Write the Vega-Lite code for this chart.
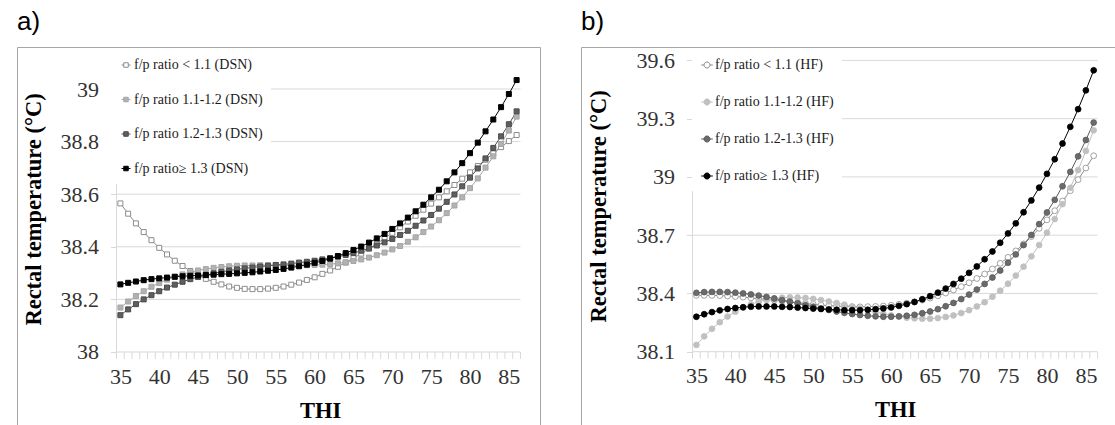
{
  "$schema": "https://vega.github.io/schema/vega-lite/v6.json",
  "background": "white",
  "padding": {"left": 16, "top": 8, "right": 0, "bottom": 0},
  "spacing": 39,
  "datasets": {
    "dsn": [
      {"THI":35,"series":"f/p ratio < 1.1 (DSN)","RT":38.565},{"THI":36,"series":"f/p ratio < 1.1 (DSN)","RT":38.526},{"THI":37,"series":"f/p ratio < 1.1 (DSN)","RT":38.489},{"THI":38,"series":"f/p ratio < 1.1 (DSN)","RT":38.456},{"THI":39,"series":"f/p ratio < 1.1 (DSN)","RT":38.425},{"THI":40,"series":"f/p ratio < 1.1 (DSN)","RT":38.396},{"THI":41,"series":"f/p ratio < 1.1 (DSN)","RT":38.371},{"THI":42,"series":"f/p ratio < 1.1 (DSN)","RT":38.347},{"THI":43,"series":"f/p ratio < 1.1 (DSN)","RT":38.327},{"THI":44,"series":"f/p ratio < 1.1 (DSN)","RT":38.308},{"THI":45,"series":"f/p ratio < 1.1 (DSN)","RT":38.292},{"THI":46,"series":"f/p ratio < 1.1 (DSN)","RT":38.278},{"THI":47,"series":"f/p ratio < 1.1 (DSN)","RT":38.267},{"THI":48,"series":"f/p ratio < 1.1 (DSN)","RT":38.257},{"THI":49,"series":"f/p ratio < 1.1 (DSN)","RT":38.249},{"THI":50,"series":"f/p ratio < 1.1 (DSN)","RT":38.244},{"THI":51,"series":"f/p ratio < 1.1 (DSN)","RT":38.240},{"THI":52,"series":"f/p ratio < 1.1 (DSN)","RT":38.239},{"THI":53,"series":"f/p ratio < 1.1 (DSN)","RT":38.239},{"THI":54,"series":"f/p ratio < 1.1 (DSN)","RT":38.241},{"THI":55,"series":"f/p ratio < 1.1 (DSN)","RT":38.244},{"THI":56,"series":"f/p ratio < 1.1 (DSN)","RT":38.249},{"THI":57,"series":"f/p ratio < 1.1 (DSN)","RT":38.256},{"THI":58,"series":"f/p ratio < 1.1 (DSN)","RT":38.264},{"THI":59,"series":"f/p ratio < 1.1 (DSN)","RT":38.274},{"THI":60,"series":"f/p ratio < 1.1 (DSN)","RT":38.284},{"THI":61,"series":"f/p ratio < 1.1 (DSN)","RT":38.297},{"THI":62,"series":"f/p ratio < 1.1 (DSN)","RT":38.310},{"THI":63,"series":"f/p ratio < 1.1 (DSN)","RT":38.324},{"THI":64,"series":"f/p ratio < 1.1 (DSN)","RT":38.340},{"THI":65,"series":"f/p ratio < 1.1 (DSN)","RT":38.357},{"THI":66,"series":"f/p ratio < 1.1 (DSN)","RT":38.374},{"THI":67,"series":"f/p ratio < 1.1 (DSN)","RT":38.393},{"THI":68,"series":"f/p ratio < 1.1 (DSN)","RT":38.412},{"THI":69,"series":"f/p ratio < 1.1 (DSN)","RT":38.432},{"THI":70,"series":"f/p ratio < 1.1 (DSN)","RT":38.453},{"THI":71,"series":"f/p ratio < 1.1 (DSN)","RT":38.474},{"THI":72,"series":"f/p ratio < 1.1 (DSN)","RT":38.496},{"THI":73,"series":"f/p ratio < 1.1 (DSN)","RT":38.518},{"THI":74,"series":"f/p ratio < 1.1 (DSN)","RT":38.541},{"THI":75,"series":"f/p ratio < 1.1 (DSN)","RT":38.564},{"THI":76,"series":"f/p ratio < 1.1 (DSN)","RT":38.588},{"THI":77,"series":"f/p ratio < 1.1 (DSN)","RT":38.611},{"THI":78,"series":"f/p ratio < 1.1 (DSN)","RT":38.635},{"THI":79,"series":"f/p ratio < 1.1 (DSN)","RT":38.659},{"THI":80,"series":"f/p ratio < 1.1 (DSN)","RT":38.683},{"THI":81,"series":"f/p ratio < 1.1 (DSN)","RT":38.707},{"THI":82,"series":"f/p ratio < 1.1 (DSN)","RT":38.731},{"THI":83,"series":"f/p ratio < 1.1 (DSN)","RT":38.755},{"THI":84,"series":"f/p ratio < 1.1 (DSN)","RT":38.779},{"THI":85,"series":"f/p ratio < 1.1 (DSN)","RT":38.802},{"THI":86,"series":"f/p ratio < 1.1 (DSN)","RT":38.825},
      {"THI":35,"series":"f/p ratio 1.1-1.2 (DSN)","RT":38.169},{"THI":36,"series":"f/p ratio 1.1-1.2 (DSN)","RT":38.192},{"THI":37,"series":"f/p ratio 1.1-1.2 (DSN)","RT":38.213},{"THI":38,"series":"f/p ratio 1.1-1.2 (DSN)","RT":38.231},{"THI":39,"series":"f/p ratio 1.1-1.2 (DSN)","RT":38.248},{"THI":40,"series":"f/p ratio 1.1-1.2 (DSN)","RT":38.262},{"THI":41,"series":"f/p ratio 1.1-1.2 (DSN)","RT":38.275},{"THI":42,"series":"f/p ratio 1.1-1.2 (DSN)","RT":38.286},{"THI":43,"series":"f/p ratio 1.1-1.2 (DSN)","RT":38.295},{"THI":44,"series":"f/p ratio 1.1-1.2 (DSN)","RT":38.303},{"THI":45,"series":"f/p ratio 1.1-1.2 (DSN)","RT":38.310},{"THI":46,"series":"f/p ratio 1.1-1.2 (DSN)","RT":38.315},{"THI":47,"series":"f/p ratio 1.1-1.2 (DSN)","RT":38.320},{"THI":48,"series":"f/p ratio 1.1-1.2 (DSN)","RT":38.323},{"THI":49,"series":"f/p ratio 1.1-1.2 (DSN)","RT":38.326},{"THI":50,"series":"f/p ratio 1.1-1.2 (DSN)","RT":38.328},{"THI":51,"series":"f/p ratio 1.1-1.2 (DSN)","RT":38.329},{"THI":52,"series":"f/p ratio 1.1-1.2 (DSN)","RT":38.329},{"THI":53,"series":"f/p ratio 1.1-1.2 (DSN)","RT":38.330},{"THI":54,"series":"f/p ratio 1.1-1.2 (DSN)","RT":38.330},{"THI":55,"series":"f/p ratio 1.1-1.2 (DSN)","RT":38.330},{"THI":56,"series":"f/p ratio 1.1-1.2 (DSN)","RT":38.329},{"THI":57,"series":"f/p ratio 1.1-1.2 (DSN)","RT":38.329},{"THI":58,"series":"f/p ratio 1.1-1.2 (DSN)","RT":38.330},{"THI":59,"series":"f/p ratio 1.1-1.2 (DSN)","RT":38.330},{"THI":60,"series":"f/p ratio 1.1-1.2 (DSN)","RT":38.331},{"THI":61,"series":"f/p ratio 1.1-1.2 (DSN)","RT":38.332},{"THI":62,"series":"f/p ratio 1.1-1.2 (DSN)","RT":38.334},{"THI":63,"series":"f/p ratio 1.1-1.2 (DSN)","RT":38.337},{"THI":64,"series":"f/p ratio 1.1-1.2 (DSN)","RT":38.341},{"THI":65,"series":"f/p ratio 1.1-1.2 (DSN)","RT":38.346},{"THI":66,"series":"f/p ratio 1.1-1.2 (DSN)","RT":38.352},{"THI":67,"series":"f/p ratio 1.1-1.2 (DSN)","RT":38.359},{"THI":68,"series":"f/p ratio 1.1-1.2 (DSN)","RT":38.368},{"THI":69,"series":"f/p ratio 1.1-1.2 (DSN)","RT":38.378},{"THI":70,"series":"f/p ratio 1.1-1.2 (DSN)","RT":38.390},{"THI":71,"series":"f/p ratio 1.1-1.2 (DSN)","RT":38.403},{"THI":72,"series":"f/p ratio 1.1-1.2 (DSN)","RT":38.419},{"THI":73,"series":"f/p ratio 1.1-1.2 (DSN)","RT":38.436},{"THI":74,"series":"f/p ratio 1.1-1.2 (DSN)","RT":38.456},{"THI":75,"series":"f/p ratio 1.1-1.2 (DSN)","RT":38.477},{"THI":76,"series":"f/p ratio 1.1-1.2 (DSN)","RT":38.501},{"THI":77,"series":"f/p ratio 1.1-1.2 (DSN)","RT":38.528},{"THI":78,"series":"f/p ratio 1.1-1.2 (DSN)","RT":38.557},{"THI":79,"series":"f/p ratio 1.1-1.2 (DSN)","RT":38.588},{"THI":80,"series":"f/p ratio 1.1-1.2 (DSN)","RT":38.623},{"THI":81,"series":"f/p ratio 1.1-1.2 (DSN)","RT":38.660},{"THI":82,"series":"f/p ratio 1.1-1.2 (DSN)","RT":38.701},{"THI":83,"series":"f/p ratio 1.1-1.2 (DSN)","RT":38.744},{"THI":84,"series":"f/p ratio 1.1-1.2 (DSN)","RT":38.791},{"THI":85,"series":"f/p ratio 1.1-1.2 (DSN)","RT":38.842},{"THI":86,"series":"f/p ratio 1.1-1.2 (DSN)","RT":38.895},
      {"THI":35,"series":"f/p ratio 1.2-1.3 (DSN)","RT":38.140},{"THI":36,"series":"f/p ratio 1.2-1.3 (DSN)","RT":38.162},{"THI":37,"series":"f/p ratio 1.2-1.3 (DSN)","RT":38.182},{"THI":38,"series":"f/p ratio 1.2-1.3 (DSN)","RT":38.200},{"THI":39,"series":"f/p ratio 1.2-1.3 (DSN)","RT":38.216},{"THI":40,"series":"f/p ratio 1.2-1.3 (DSN)","RT":38.231},{"THI":41,"series":"f/p ratio 1.2-1.3 (DSN)","RT":38.245},{"THI":42,"series":"f/p ratio 1.2-1.3 (DSN)","RT":38.256},{"THI":43,"series":"f/p ratio 1.2-1.3 (DSN)","RT":38.267},{"THI":44,"series":"f/p ratio 1.2-1.3 (DSN)","RT":38.277},{"THI":45,"series":"f/p ratio 1.2-1.3 (DSN)","RT":38.285},{"THI":46,"series":"f/p ratio 1.2-1.3 (DSN)","RT":38.292},{"THI":47,"series":"f/p ratio 1.2-1.3 (DSN)","RT":38.299},{"THI":48,"series":"f/p ratio 1.2-1.3 (DSN)","RT":38.305},{"THI":49,"series":"f/p ratio 1.2-1.3 (DSN)","RT":38.310},{"THI":50,"series":"f/p ratio 1.2-1.3 (DSN)","RT":38.314},{"THI":51,"series":"f/p ratio 1.2-1.3 (DSN)","RT":38.318},{"THI":52,"series":"f/p ratio 1.2-1.3 (DSN)","RT":38.321},{"THI":53,"series":"f/p ratio 1.2-1.3 (DSN)","RT":38.325},{"THI":54,"series":"f/p ratio 1.2-1.3 (DSN)","RT":38.328},{"THI":55,"series":"f/p ratio 1.2-1.3 (DSN)","RT":38.331},{"THI":56,"series":"f/p ratio 1.2-1.3 (DSN)","RT":38.333},{"THI":57,"series":"f/p ratio 1.2-1.3 (DSN)","RT":38.336},{"THI":58,"series":"f/p ratio 1.2-1.3 (DSN)","RT":38.340},{"THI":59,"series":"f/p ratio 1.2-1.3 (DSN)","RT":38.343},{"THI":60,"series":"f/p ratio 1.2-1.3 (DSN)","RT":38.347},{"THI":61,"series":"f/p ratio 1.2-1.3 (DSN)","RT":38.352},{"THI":62,"series":"f/p ratio 1.2-1.3 (DSN)","RT":38.357},{"THI":63,"series":"f/p ratio 1.2-1.3 (DSN)","RT":38.362},{"THI":64,"series":"f/p ratio 1.2-1.3 (DSN)","RT":38.369},{"THI":65,"series":"f/p ratio 1.2-1.3 (DSN)","RT":38.376},{"THI":66,"series":"f/p ratio 1.2-1.3 (DSN)","RT":38.385},{"THI":67,"series":"f/p ratio 1.2-1.3 (DSN)","RT":38.394},{"THI":68,"series":"f/p ratio 1.2-1.3 (DSN)","RT":38.405},{"THI":69,"series":"f/p ratio 1.2-1.3 (DSN)","RT":38.417},{"THI":70,"series":"f/p ratio 1.2-1.3 (DSN)","RT":38.430},{"THI":71,"series":"f/p ratio 1.2-1.3 (DSN)","RT":38.445},{"THI":72,"series":"f/p ratio 1.2-1.3 (DSN)","RT":38.461},{"THI":73,"series":"f/p ratio 1.2-1.3 (DSN)","RT":38.480},{"THI":74,"series":"f/p ratio 1.2-1.3 (DSN)","RT":38.500},{"THI":75,"series":"f/p ratio 1.2-1.3 (DSN)","RT":38.521},{"THI":76,"series":"f/p ratio 1.2-1.3 (DSN)","RT":38.545},{"THI":77,"series":"f/p ratio 1.2-1.3 (DSN)","RT":38.571},{"THI":78,"series":"f/p ratio 1.2-1.3 (DSN)","RT":38.599},{"THI":79,"series":"f/p ratio 1.2-1.3 (DSN)","RT":38.630},{"THI":80,"series":"f/p ratio 1.2-1.3 (DSN)","RT":38.663},{"THI":81,"series":"f/p ratio 1.2-1.3 (DSN)","RT":38.698},{"THI":82,"series":"f/p ratio 1.2-1.3 (DSN)","RT":38.736},{"THI":83,"series":"f/p ratio 1.2-1.3 (DSN)","RT":38.776},{"THI":84,"series":"f/p ratio 1.2-1.3 (DSN)","RT":38.820},{"THI":85,"series":"f/p ratio 1.2-1.3 (DSN)","RT":38.866},{"THI":86,"series":"f/p ratio 1.2-1.3 (DSN)","RT":38.915},
      {"THI":35,"series":"f/p ratio≥ 1.3 (DSN)","RT":38.257},{"THI":36,"series":"f/p ratio≥ 1.3 (DSN)","RT":38.263},{"THI":37,"series":"f/p ratio≥ 1.3 (DSN)","RT":38.268},{"THI":38,"series":"f/p ratio≥ 1.3 (DSN)","RT":38.273},{"THI":39,"series":"f/p ratio≥ 1.3 (DSN)","RT":38.277},{"THI":40,"series":"f/p ratio≥ 1.3 (DSN)","RT":38.280},{"THI":41,"series":"f/p ratio≥ 1.3 (DSN)","RT":38.283},{"THI":42,"series":"f/p ratio≥ 1.3 (DSN)","RT":38.286},{"THI":43,"series":"f/p ratio≥ 1.3 (DSN)","RT":38.288},{"THI":44,"series":"f/p ratio≥ 1.3 (DSN)","RT":38.290},{"THI":45,"series":"f/p ratio≥ 1.3 (DSN)","RT":38.291},{"THI":46,"series":"f/p ratio≥ 1.3 (DSN)","RT":38.293},{"THI":47,"series":"f/p ratio≥ 1.3 (DSN)","RT":38.294},{"THI":48,"series":"f/p ratio≥ 1.3 (DSN)","RT":38.296},{"THI":49,"series":"f/p ratio≥ 1.3 (DSN)","RT":38.297},{"THI":50,"series":"f/p ratio≥ 1.3 (DSN)","RT":38.299},{"THI":51,"series":"f/p ratio≥ 1.3 (DSN)","RT":38.301},{"THI":52,"series":"f/p ratio≥ 1.3 (DSN)","RT":38.303},{"THI":53,"series":"f/p ratio≥ 1.3 (DSN)","RT":38.306},{"THI":54,"series":"f/p ratio≥ 1.3 (DSN)","RT":38.309},{"THI":55,"series":"f/p ratio≥ 1.3 (DSN)","RT":38.312},{"THI":56,"series":"f/p ratio≥ 1.3 (DSN)","RT":38.316},{"THI":57,"series":"f/p ratio≥ 1.3 (DSN)","RT":38.321},{"THI":58,"series":"f/p ratio≥ 1.3 (DSN)","RT":38.326},{"THI":59,"series":"f/p ratio≥ 1.3 (DSN)","RT":38.332},{"THI":60,"series":"f/p ratio≥ 1.3 (DSN)","RT":38.339},{"THI":61,"series":"f/p ratio≥ 1.3 (DSN)","RT":38.346},{"THI":62,"series":"f/p ratio≥ 1.3 (DSN)","RT":38.355},{"THI":63,"series":"f/p ratio≥ 1.3 (DSN)","RT":38.365},{"THI":64,"series":"f/p ratio≥ 1.3 (DSN)","RT":38.376},{"THI":65,"series":"f/p ratio≥ 1.3 (DSN)","RT":38.388},{"THI":66,"series":"f/p ratio≥ 1.3 (DSN)","RT":38.401},{"THI":67,"series":"f/p ratio≥ 1.3 (DSN)","RT":38.416},{"THI":68,"series":"f/p ratio≥ 1.3 (DSN)","RT":38.432},{"THI":69,"series":"f/p ratio≥ 1.3 (DSN)","RT":38.449},{"THI":70,"series":"f/p ratio≥ 1.3 (DSN)","RT":38.468},{"THI":71,"series":"f/p ratio≥ 1.3 (DSN)","RT":38.489},{"THI":72,"series":"f/p ratio≥ 1.3 (DSN)","RT":38.511},{"THI":73,"series":"f/p ratio≥ 1.3 (DSN)","RT":38.535},{"THI":74,"series":"f/p ratio≥ 1.3 (DSN)","RT":38.560},{"THI":75,"series":"f/p ratio≥ 1.3 (DSN)","RT":38.588},{"THI":76,"series":"f/p ratio≥ 1.3 (DSN)","RT":38.617},{"THI":77,"series":"f/p ratio≥ 1.3 (DSN)","RT":38.649},{"THI":78,"series":"f/p ratio≥ 1.3 (DSN)","RT":38.683},{"THI":79,"series":"f/p ratio≥ 1.3 (DSN)","RT":38.718},{"THI":80,"series":"f/p ratio≥ 1.3 (DSN)","RT":38.756},{"THI":81,"series":"f/p ratio≥ 1.3 (DSN)","RT":38.796},{"THI":82,"series":"f/p ratio≥ 1.3 (DSN)","RT":38.839},{"THI":83,"series":"f/p ratio≥ 1.3 (DSN)","RT":38.884},{"THI":84,"series":"f/p ratio≥ 1.3 (DSN)","RT":38.931},{"THI":85,"series":"f/p ratio≥ 1.3 (DSN)","RT":38.981},{"THI":86,"series":"f/p ratio≥ 1.3 (DSN)","RT":39.034}
    ],
    "hf": [
      {"THI":35,"series":"f/p ratio < 1.1 (HF)","RT":38.390},{"THI":36,"series":"f/p ratio < 1.1 (HF)","RT":38.390},{"THI":37,"series":"f/p ratio < 1.1 (HF)","RT":38.390},{"THI":38,"series":"f/p ratio < 1.1 (HF)","RT":38.389},{"THI":39,"series":"f/p ratio < 1.1 (HF)","RT":38.387},{"THI":40,"series":"f/p ratio < 1.1 (HF)","RT":38.384},{"THI":41,"series":"f/p ratio < 1.1 (HF)","RT":38.381},{"THI":42,"series":"f/p ratio < 1.1 (HF)","RT":38.377},{"THI":43,"series":"f/p ratio < 1.1 (HF)","RT":38.373},{"THI":44,"series":"f/p ratio < 1.1 (HF)","RT":38.369},{"THI":45,"series":"f/p ratio < 1.1 (HF)","RT":38.365},{"THI":46,"series":"f/p ratio < 1.1 (HF)","RT":38.361},{"THI":47,"series":"f/p ratio < 1.1 (HF)","RT":38.356},{"THI":48,"series":"f/p ratio < 1.1 (HF)","RT":38.352},{"THI":49,"series":"f/p ratio < 1.1 (HF)","RT":38.348},{"THI":50,"series":"f/p ratio < 1.1 (HF)","RT":38.344},{"THI":51,"series":"f/p ratio < 1.1 (HF)","RT":38.340},{"THI":52,"series":"f/p ratio < 1.1 (HF)","RT":38.337},{"THI":53,"series":"f/p ratio < 1.1 (HF)","RT":38.335},{"THI":54,"series":"f/p ratio < 1.1 (HF)","RT":38.333},{"THI":55,"series":"f/p ratio < 1.1 (HF)","RT":38.332},{"THI":56,"series":"f/p ratio < 1.1 (HF)","RT":38.331},{"THI":57,"series":"f/p ratio < 1.1 (HF)","RT":38.332},{"THI":58,"series":"f/p ratio < 1.1 (HF)","RT":38.333},{"THI":59,"series":"f/p ratio < 1.1 (HF)","RT":38.335},{"THI":60,"series":"f/p ratio < 1.1 (HF)","RT":38.339},{"THI":61,"series":"f/p ratio < 1.1 (HF)","RT":38.344},{"THI":62,"series":"f/p ratio < 1.1 (HF)","RT":38.350},{"THI":63,"series":"f/p ratio < 1.1 (HF)","RT":38.357},{"THI":64,"series":"f/p ratio < 1.1 (HF)","RT":38.366},{"THI":65,"series":"f/p ratio < 1.1 (HF)","RT":38.376},{"THI":66,"series":"f/p ratio < 1.1 (HF)","RT":38.388},{"THI":67,"series":"f/p ratio < 1.1 (HF)","RT":38.402},{"THI":68,"series":"f/p ratio < 1.1 (HF)","RT":38.418},{"THI":69,"series":"f/p ratio < 1.1 (HF)","RT":38.435},{"THI":70,"series":"f/p ratio < 1.1 (HF)","RT":38.455},{"THI":71,"series":"f/p ratio < 1.1 (HF)","RT":38.477},{"THI":72,"series":"f/p ratio < 1.1 (HF)","RT":38.500},{"THI":73,"series":"f/p ratio < 1.1 (HF)","RT":38.526},{"THI":74,"series":"f/p ratio < 1.1 (HF)","RT":38.555},{"THI":75,"series":"f/p ratio < 1.1 (HF)","RT":38.586},{"THI":76,"series":"f/p ratio < 1.1 (HF)","RT":38.619},{"THI":77,"series":"f/p ratio < 1.1 (HF)","RT":38.655},{"THI":78,"series":"f/p ratio < 1.1 (HF)","RT":38.693},{"THI":79,"series":"f/p ratio < 1.1 (HF)","RT":38.735},{"THI":80,"series":"f/p ratio < 1.1 (HF)","RT":38.779},{"THI":81,"series":"f/p ratio < 1.1 (HF)","RT":38.826},{"THI":82,"series":"f/p ratio < 1.1 (HF)","RT":38.876},{"THI":83,"series":"f/p ratio < 1.1 (HF)","RT":38.929},{"THI":84,"series":"f/p ratio < 1.1 (HF)","RT":38.986},{"THI":85,"series":"f/p ratio < 1.1 (HF)","RT":39.046},{"THI":86,"series":"f/p ratio < 1.1 (HF)","RT":39.109},
      {"THI":35,"series":"f/p ratio 1.1-1.2 (HF)","RT":38.135},{"THI":36,"series":"f/p ratio 1.1-1.2 (HF)","RT":38.179},{"THI":37,"series":"f/p ratio 1.1-1.2 (HF)","RT":38.218},{"THI":38,"series":"f/p ratio 1.1-1.2 (HF)","RT":38.252},{"THI":39,"series":"f/p ratio 1.1-1.2 (HF)","RT":38.281},{"THI":40,"series":"f/p ratio 1.1-1.2 (HF)","RT":38.306},{"THI":41,"series":"f/p ratio 1.1-1.2 (HF)","RT":38.327},{"THI":42,"series":"f/p ratio 1.1-1.2 (HF)","RT":38.344},{"THI":43,"series":"f/p ratio 1.1-1.2 (HF)","RT":38.357},{"THI":44,"series":"f/p ratio 1.1-1.2 (HF)","RT":38.367},{"THI":45,"series":"f/p ratio 1.1-1.2 (HF)","RT":38.374},{"THI":46,"series":"f/p ratio 1.1-1.2 (HF)","RT":38.378},{"THI":47,"series":"f/p ratio 1.1-1.2 (HF)","RT":38.380},{"THI":48,"series":"f/p ratio 1.1-1.2 (HF)","RT":38.379},{"THI":49,"series":"f/p ratio 1.1-1.2 (HF)","RT":38.377},{"THI":50,"series":"f/p ratio 1.1-1.2 (HF)","RT":38.372},{"THI":51,"series":"f/p ratio 1.1-1.2 (HF)","RT":38.366},{"THI":52,"series":"f/p ratio 1.1-1.2 (HF)","RT":38.359},{"THI":53,"series":"f/p ratio 1.1-1.2 (HF)","RT":38.351},{"THI":54,"series":"f/p ratio 1.1-1.2 (HF)","RT":38.342},{"THI":55,"series":"f/p ratio 1.1-1.2 (HF)","RT":38.332},{"THI":56,"series":"f/p ratio 1.1-1.2 (HF)","RT":38.323},{"THI":57,"series":"f/p ratio 1.1-1.2 (HF)","RT":38.313},{"THI":58,"series":"f/p ratio 1.1-1.2 (HF)","RT":38.304},{"THI":59,"series":"f/p ratio 1.1-1.2 (HF)","RT":38.295},{"THI":60,"series":"f/p ratio 1.1-1.2 (HF)","RT":38.287},{"THI":61,"series":"f/p ratio 1.1-1.2 (HF)","RT":38.281},{"THI":62,"series":"f/p ratio 1.1-1.2 (HF)","RT":38.275},{"THI":63,"series":"f/p ratio 1.1-1.2 (HF)","RT":38.272},{"THI":64,"series":"f/p ratio 1.1-1.2 (HF)","RT":38.270},{"THI":65,"series":"f/p ratio 1.1-1.2 (HF)","RT":38.270},{"THI":66,"series":"f/p ratio 1.1-1.2 (HF)","RT":38.273},{"THI":67,"series":"f/p ratio 1.1-1.2 (HF)","RT":38.279},{"THI":68,"series":"f/p ratio 1.1-1.2 (HF)","RT":38.287},{"THI":69,"series":"f/p ratio 1.1-1.2 (HF)","RT":38.299},{"THI":70,"series":"f/p ratio 1.1-1.2 (HF)","RT":38.314},{"THI":71,"series":"f/p ratio 1.1-1.2 (HF)","RT":38.333},{"THI":72,"series":"f/p ratio 1.1-1.2 (HF)","RT":38.355},{"THI":73,"series":"f/p ratio 1.1-1.2 (HF)","RT":38.383},{"THI":74,"series":"f/p ratio 1.1-1.2 (HF)","RT":38.414},{"THI":75,"series":"f/p ratio 1.1-1.2 (HF)","RT":38.450},{"THI":76,"series":"f/p ratio 1.1-1.2 (HF)","RT":38.492},{"THI":77,"series":"f/p ratio 1.1-1.2 (HF)","RT":38.538},{"THI":78,"series":"f/p ratio 1.1-1.2 (HF)","RT":38.591},{"THI":79,"series":"f/p ratio 1.1-1.2 (HF)","RT":38.649},{"THI":80,"series":"f/p ratio 1.1-1.2 (HF)","RT":38.713},{"THI":81,"series":"f/p ratio 1.1-1.2 (HF)","RT":38.783},{"THI":82,"series":"f/p ratio 1.1-1.2 (HF)","RT":38.860},{"THI":83,"series":"f/p ratio 1.1-1.2 (HF)","RT":38.944},{"THI":84,"series":"f/p ratio 1.1-1.2 (HF)","RT":39.035},{"THI":85,"series":"f/p ratio 1.1-1.2 (HF)","RT":39.134},{"THI":86,"series":"f/p ratio 1.1-1.2 (HF)","RT":39.240},
      {"THI":35,"series":"f/p ratio 1.2-1.3 (HF)","RT":38.403},{"THI":36,"series":"f/p ratio 1.2-1.3 (HF)","RT":38.407},{"THI":37,"series":"f/p ratio 1.2-1.3 (HF)","RT":38.408},{"THI":38,"series":"f/p ratio 1.2-1.3 (HF)","RT":38.408},{"THI":39,"series":"f/p ratio 1.2-1.3 (HF)","RT":38.407},{"THI":40,"series":"f/p ratio 1.2-1.3 (HF)","RT":38.404},{"THI":41,"series":"f/p ratio 1.2-1.3 (HF)","RT":38.400},{"THI":42,"series":"f/p ratio 1.2-1.3 (HF)","RT":38.395},{"THI":43,"series":"f/p ratio 1.2-1.3 (HF)","RT":38.389},{"THI":44,"series":"f/p ratio 1.2-1.3 (HF)","RT":38.382},{"THI":45,"series":"f/p ratio 1.2-1.3 (HF)","RT":38.374},{"THI":46,"series":"f/p ratio 1.2-1.3 (HF)","RT":38.366},{"THI":47,"series":"f/p ratio 1.2-1.3 (HF)","RT":38.358},{"THI":48,"series":"f/p ratio 1.2-1.3 (HF)","RT":38.349},{"THI":49,"series":"f/p ratio 1.2-1.3 (HF)","RT":38.340},{"THI":50,"series":"f/p ratio 1.2-1.3 (HF)","RT":38.332},{"THI":51,"series":"f/p ratio 1.2-1.3 (HF)","RT":38.323},{"THI":52,"series":"f/p ratio 1.2-1.3 (HF)","RT":38.315},{"THI":53,"series":"f/p ratio 1.2-1.3 (HF)","RT":38.307},{"THI":54,"series":"f/p ratio 1.2-1.3 (HF)","RT":38.300},{"THI":55,"series":"f/p ratio 1.2-1.3 (HF)","RT":38.294},{"THI":56,"series":"f/p ratio 1.2-1.3 (HF)","RT":38.289},{"THI":57,"series":"f/p ratio 1.2-1.3 (HF)","RT":38.285},{"THI":58,"series":"f/p ratio 1.2-1.3 (HF)","RT":38.282},{"THI":59,"series":"f/p ratio 1.2-1.3 (HF)","RT":38.280},{"THI":60,"series":"f/p ratio 1.2-1.3 (HF)","RT":38.280},{"THI":61,"series":"f/p ratio 1.2-1.3 (HF)","RT":38.282},{"THI":62,"series":"f/p ratio 1.2-1.3 (HF)","RT":38.285},{"THI":63,"series":"f/p ratio 1.2-1.3 (HF)","RT":38.290},{"THI":64,"series":"f/p ratio 1.2-1.3 (HF)","RT":38.298},{"THI":65,"series":"f/p ratio 1.2-1.3 (HF)","RT":38.307},{"THI":66,"series":"f/p ratio 1.2-1.3 (HF)","RT":38.319},{"THI":67,"series":"f/p ratio 1.2-1.3 (HF)","RT":38.334},{"THI":68,"series":"f/p ratio 1.2-1.3 (HF)","RT":38.351},{"THI":69,"series":"f/p ratio 1.2-1.3 (HF)","RT":38.371},{"THI":70,"series":"f/p ratio 1.2-1.3 (HF)","RT":38.394},{"THI":71,"series":"f/p ratio 1.2-1.3 (HF)","RT":38.420},{"THI":72,"series":"f/p ratio 1.2-1.3 (HF)","RT":38.449},{"THI":73,"series":"f/p ratio 1.2-1.3 (HF)","RT":38.482},{"THI":74,"series":"f/p ratio 1.2-1.3 (HF)","RT":38.518},{"THI":75,"series":"f/p ratio 1.2-1.3 (HF)","RT":38.558},{"THI":76,"series":"f/p ratio 1.2-1.3 (HF)","RT":38.601},{"THI":77,"series":"f/p ratio 1.2-1.3 (HF)","RT":38.649},{"THI":78,"series":"f/p ratio 1.2-1.3 (HF)","RT":38.701},{"THI":79,"series":"f/p ratio 1.2-1.3 (HF)","RT":38.757},{"THI":80,"series":"f/p ratio 1.2-1.3 (HF)","RT":38.817},{"THI":81,"series":"f/p ratio 1.2-1.3 (HF)","RT":38.882},{"THI":82,"series":"f/p ratio 1.2-1.3 (HF)","RT":38.952},{"THI":83,"series":"f/p ratio 1.2-1.3 (HF)","RT":39.026},{"THI":84,"series":"f/p ratio 1.2-1.3 (HF)","RT":39.106},{"THI":85,"series":"f/p ratio 1.2-1.3 (HF)","RT":39.190},{"THI":86,"series":"f/p ratio 1.2-1.3 (HF)","RT":39.280},
      {"THI":35,"series":"f/p ratio≥ 1.3 (HF)","RT":38.280},{"THI":36,"series":"f/p ratio≥ 1.3 (HF)","RT":38.293},{"THI":37,"series":"f/p ratio≥ 1.3 (HF)","RT":38.304},{"THI":38,"series":"f/p ratio≥ 1.3 (HF)","RT":38.313},{"THI":39,"series":"f/p ratio≥ 1.3 (HF)","RT":38.320},{"THI":40,"series":"f/p ratio≥ 1.3 (HF)","RT":38.325},{"THI":41,"series":"f/p ratio≥ 1.3 (HF)","RT":38.329},{"THI":42,"series":"f/p ratio≥ 1.3 (HF)","RT":38.332},{"THI":43,"series":"f/p ratio≥ 1.3 (HF)","RT":38.333},{"THI":44,"series":"f/p ratio≥ 1.3 (HF)","RT":38.333},{"THI":45,"series":"f/p ratio≥ 1.3 (HF)","RT":38.333},{"THI":46,"series":"f/p ratio≥ 1.3 (HF)","RT":38.331},{"THI":47,"series":"f/p ratio≥ 1.3 (HF)","RT":38.330},{"THI":48,"series":"f/p ratio≥ 1.3 (HF)","RT":38.327},{"THI":49,"series":"f/p ratio≥ 1.3 (HF)","RT":38.325},{"THI":50,"series":"f/p ratio≥ 1.3 (HF)","RT":38.322},{"THI":51,"series":"f/p ratio≥ 1.3 (HF)","RT":38.320},{"THI":52,"series":"f/p ratio≥ 1.3 (HF)","RT":38.318},{"THI":53,"series":"f/p ratio≥ 1.3 (HF)","RT":38.316},{"THI":54,"series":"f/p ratio≥ 1.3 (HF)","RT":38.314},{"THI":55,"series":"f/p ratio≥ 1.3 (HF)","RT":38.314},{"THI":56,"series":"f/p ratio≥ 1.3 (HF)","RT":38.314},{"THI":57,"series":"f/p ratio≥ 1.3 (HF)","RT":38.316},{"THI":58,"series":"f/p ratio≥ 1.3 (HF)","RT":38.319},{"THI":59,"series":"f/p ratio≥ 1.3 (HF)","RT":38.323},{"THI":60,"series":"f/p ratio≥ 1.3 (HF)","RT":38.328},{"THI":61,"series":"f/p ratio≥ 1.3 (HF)","RT":38.336},{"THI":62,"series":"f/p ratio≥ 1.3 (HF)","RT":38.345},{"THI":63,"series":"f/p ratio≥ 1.3 (HF)","RT":38.356},{"THI":64,"series":"f/p ratio≥ 1.3 (HF)","RT":38.370},{"THI":65,"series":"f/p ratio≥ 1.3 (HF)","RT":38.386},{"THI":66,"series":"f/p ratio≥ 1.3 (HF)","RT":38.404},{"THI":67,"series":"f/p ratio≥ 1.3 (HF)","RT":38.425},{"THI":68,"series":"f/p ratio≥ 1.3 (HF)","RT":38.449},{"THI":69,"series":"f/p ratio≥ 1.3 (HF)","RT":38.476},{"THI":70,"series":"f/p ratio≥ 1.3 (HF)","RT":38.506},{"THI":71,"series":"f/p ratio≥ 1.3 (HF)","RT":38.539},{"THI":72,"series":"f/p ratio≥ 1.3 (HF)","RT":38.576},{"THI":73,"series":"f/p ratio≥ 1.3 (HF)","RT":38.616},{"THI":74,"series":"f/p ratio≥ 1.3 (HF)","RT":38.661},{"THI":75,"series":"f/p ratio≥ 1.3 (HF)","RT":38.709},{"THI":76,"series":"f/p ratio≥ 1.3 (HF)","RT":38.761},{"THI":77,"series":"f/p ratio≥ 1.3 (HF)","RT":38.818},{"THI":78,"series":"f/p ratio≥ 1.3 (HF)","RT":38.879},{"THI":79,"series":"f/p ratio≥ 1.3 (HF)","RT":38.945},{"THI":80,"series":"f/p ratio≥ 1.3 (HF)","RT":39.016},{"THI":81,"series":"f/p ratio≥ 1.3 (HF)","RT":39.091},{"THI":82,"series":"f/p ratio≥ 1.3 (HF)","RT":39.172},{"THI":83,"series":"f/p ratio≥ 1.3 (HF)","RT":39.258},{"THI":84,"series":"f/p ratio≥ 1.3 (HF)","RT":39.349},{"THI":85,"series":"f/p ratio≥ 1.3 (HF)","RT":39.446},{"THI":86,"series":"f/p ratio≥ 1.3 (HF)","RT":39.549}
    ],
    "xticks": [{"t":34.5},{"t":35.5},{"t":36.5},{"t":37.5},{"t":38.5},{"t":39.5},{"t":40.5},{"t":41.5},{"t":42.5},{"t":43.5},{"t":44.5},{"t":45.5},{"t":46.5},{"t":47.5},{"t":48.5},{"t":49.5},{"t":50.5},{"t":51.5},{"t":52.5},{"t":53.5},{"t":54.5},{"t":55.5},{"t":56.5},{"t":57.5},{"t":58.5},{"t":59.5},{"t":60.5},{"t":61.5},{"t":62.5},{"t":63.5},{"t":64.5},{"t":65.5},{"t":66.5},{"t":67.5},{"t":68.5},{"t":69.5},{"t":70.5},{"t":71.5},{"t":72.5},{"t":73.5},{"t":74.5},{"t":75.5},{"t":76.5},{"t":77.5},{"t":78.5},{"t":79.5},{"t":80.5},{"t":81.5},{"t":82.5},{"t":83.5},{"t":84.5},{"t":85.5},{"t":86.5}]
  },
  "hconcat": [
    {
      "width": 523,
      "height": 378,
      "title": {"text": "a)", "anchor": "start", "frame": "group", "font": "Liberation Sans", "fontSize": 26, "fontWeight": "normal", "color": "#000000", "offset": 12},
      "layer": [
        {
          "data": {"name": "dsn"},
          "mark": {"type": "point", "shape": "square", "filled": true, "size": 25, "strokeWidth": 1, "opacity": 0},
          "encoding": {
            "x": {"field": "THI", "type": "quantitative", "scale": {"domain": [21.693, 89.01], "nice": false, "zero": false},
              "axis": {"title": "THI", "orient": "bottom", "offset": -73, "values": [35, 40, 45, 50, 55, 60, 65, 70, 75, 80, 85], "format": "d", "ticks": false,
                "labelOverlap": false, "labelFlush": false, "labelFont": "Liberation Serif", "labelFontSize": 22, "labelColor": "#333333",
                "labelPadding": 14, "titleX": 303, "titleY": 58, "titleBaseline": "middle", "titleAnchor": "middle"}},
            "y": {"field": "RT", "type": "quantitative", "scale": {"domain": [37.7224, 39.1597], "nice": false, "zero": false},
              "axis": {"title": "Rectal temperature (°C)", "orient": "left", "offset": -99.5, "values": [38, 38.2, 38.4, 38.6, 38.8, 39], "format": ".1~f",
                "labelOverlap": false, "labelFlush": false, "labelFont": "Liberation Serif", "labelFontSize": 22, "labelColor": "#333333",
                "tickSize": 6, "labelPadding": 12, "titleX": -83, "titleY": 162, "titleBaseline": "middle", "titleAnchor": "middle"}}
          }
        },
        {
          "data": {"values": [{"v": 38.2}, {"v": 38.4}, {"v": 38.6}, {"v": 38.8}, {"v": 39}]},
          "mark": {"type": "rule", "color": "#d9d9d9", "strokeWidth": 1},
          "encoding": {
            "y": {"field": "v", "type": "quantitative", "scale": {"domain": [37.7224, 39.1597], "nice": false, "zero": false}},
            "x": {"datum": 34.5, "type": "quantitative", "scale": {"domain": [21.693, 89.01], "nice": false, "zero": false}},
            "x2": {"datum": 86.5}
          }
        },
        {
          "data": {"name": "xticks"},
          "mark": {"type": "rule", "color": "#d9d9d9", "strokeWidth": 1},
          "encoding": {
            "x": {"field": "t", "type": "quantitative", "scale": {"domain": [21.693, 89.01], "nice": false, "zero": false}},
            "y": {"datum": 38, "type": "quantitative", "scale": {"domain": [37.7224, 39.1597], "nice": false, "zero": false}},
            "y2": {"datum": 37.974}
          }
        },
        {
          "data": {"values": [{}]},
          "mark": {"type": "rule", "color": "#d9d9d9", "strokeWidth": 1},
          "encoding": {
            "x": {"datum": 34.5, "type": "quantitative", "scale": {"domain": [21.693, 89.01], "nice": false, "zero": false}},
            "y": {"datum": 38, "type": "quantitative", "scale": {"domain": [37.7224, 39.1597], "nice": false, "zero": false}},
            "y2": {"datum": 39.1}
          }
        },
        {
          "data": {"values": [{}]},
          "mark": {"type": "rule", "color": "#d9d9d9", "strokeWidth": 1},
          "encoding": {
            "y": {"datum": 38, "type": "quantitative", "scale": {"domain": [37.7224, 39.1597], "nice": false, "zero": false}},
            "x": {"datum": 34.5, "type": "quantitative", "scale": {"domain": [21.693, 89.01], "nice": false, "zero": false}},
            "x2": {"datum": 86.5}
          }
        },
        {
          "data": {"name": "dsn"},
          "mark": {"type": "line", "strokeWidth": 1},
          "encoding": {
            "x": {"field": "THI", "type": "quantitative", "scale": {"domain": [21.693, 89.01], "nice": false, "zero": false}},
            "y": {"field": "RT", "type": "quantitative", "scale": {"domain": [37.7224, 39.1597], "nice": false, "zero": false}},
            "stroke": {"field": "series", "type": "nominal", "scale": {"domain": ["f/p ratio < 1.1 (DSN)", "f/p ratio 1.1-1.2 (DSN)", "f/p ratio 1.2-1.3 (DSN)", "f/p ratio≥ 1.3 (DSN)"], "range": ["#8c8c8c", "#a5a5a5", "#4a4a4a", "#000000"]},
              "legend": {"title": null, "orient": "none", "legendX": 94, "legendY": 3, "symbolType": "M-1,0H-0.5M0.5,0H1M-0.5,-0.5H0.5V0.5H-0.5Z", "symbolSize": 81, "symbolStrokeWidth": 1, "symbolOpacity": 1, "rowPadding": 20.5, "padding": 8, "fillColor": "#ffffff", "labelOffset": 1}}
          }
        },
        {
          "data": {"name": "dsn"},
          "mark": {"type": "point", "shape": "square", "filled": true, "size": 25, "strokeWidth": 1, "opacity": 1},
          "encoding": {
            "x": {"field": "THI", "type": "quantitative", "scale": {"domain": [21.693, 89.01], "nice": false, "zero": false}},
            "y": {"field": "RT", "type": "quantitative", "scale": {"domain": [37.7224, 39.1597], "nice": false, "zero": false}},
            "fill": {"field": "series", "type": "nominal", "scale": {"domain": ["f/p ratio < 1.1 (DSN)", "f/p ratio 1.1-1.2 (DSN)", "f/p ratio 1.2-1.3 (DSN)", "f/p ratio≥ 1.3 (DSN)"], "range": ["#ffffff", "#b2b2b2", "#5f5f5f", "#000000"]},
              "legend": {"title": null, "orient": "none", "legendX": 94, "legendY": 3, "symbolType": "M-1,0H-0.5M0.5,0H1M-0.5,-0.5H0.5V0.5H-0.5Z", "symbolSize": 81, "symbolStrokeWidth": 1, "symbolOpacity": 1, "rowPadding": 20.5, "padding": 8, "fillColor": "#ffffff", "labelOffset": 1}},
            "stroke": {"field": "series", "type": "nominal", "scale": {"domain": ["f/p ratio < 1.1 (DSN)", "f/p ratio 1.1-1.2 (DSN)", "f/p ratio 1.2-1.3 (DSN)", "f/p ratio≥ 1.3 (DSN)"], "range": ["#8c8c8c", "#a5a5a5", "#4a4a4a", "#000000"]},
              "legend": {"title": null, "orient": "none", "legendX": 94, "legendY": 3, "symbolType": "M-1,0H-0.5M0.5,0H1M-0.5,-0.5H0.5V0.5H-0.5Z", "symbolSize": 81, "symbolStrokeWidth": 1, "symbolOpacity": 1, "rowPadding": 20.5, "padding": 8, "fillColor": "#ffffff", "labelOffset": 1}}
          }
        }
      ]
    },
    {
      "width": 537,
      "height": 378,
      "title": {"text": "b)", "anchor": "start", "frame": "group", "font": "Liberation Sans", "fontSize": 26, "fontWeight": "normal", "color": "#000000", "offset": 12},
      "layer": [
        {
          "data": {"name": "hf"},
          "mark": {"type": "point", "shape": "circle", "filled": true, "size": 34, "strokeWidth": 0.8, "opacity": 0},
          "encoding": {
            "x": {"field": "THI", "type": "quantitative", "scale": {"domain": [20.187, 89.121], "nice": false, "zero": false},
              "axis": {"title": "THI", "orient": "bottom", "offset": -73.3, "values": [35, 40, 45, 50, 55, 60, 65, 70, 75, 80, 85], "format": "d", "ticks": false,
                "labelOverlap": false, "labelFlush": false, "labelFont": "Liberation Serif", "labelFontSize": 22, "labelColor": "#333333",
                "labelPadding": 14, "titleX": 314, "titleY": 58, "titleBaseline": "middle", "titleAnchor": "middle"}},
            "y": {"field": "RT", "type": "quantitative", "scale": {"domain": [37.7226, 39.669], "nice": false, "zero": false},
              "axis": {"title": "Rectal temperature (°C)", "orient": "left", "offset": -111.5, "values": [38.1, 38.4, 38.7, 39, 39.3, 39.6], "format": ".1~f",
                "labelOverlap": false, "labelFlush": false, "labelFont": "Liberation Serif", "labelFontSize": 22, "labelColor": "#333333",
                "tickSize": 6, "labelPadding": 12, "titleX": -94, "titleY": 159, "titleBaseline": "middle", "titleAnchor": "middle"}}
          }
        },
        {
          "data": {"values": [{"v": 38.4}, {"v": 38.7}, {"v": 39}, {"v": 39.3}, {"v": 39.6}]},
          "mark": {"type": "rule", "color": "#d9d9d9", "strokeWidth": 1},
          "encoding": {
            "y": {"field": "v", "type": "quantitative", "scale": {"domain": [37.7226, 39.669], "nice": false, "zero": false}},
            "x": {"datum": 34.5, "type": "quantitative", "scale": {"domain": [20.187, 89.121], "nice": false, "zero": false}},
            "x2": {"datum": 86.5}
          }
        },
        {
          "data": {"name": "xticks"},
          "mark": {"type": "rule", "color": "#d9d9d9", "strokeWidth": 1},
          "encoding": {
            "x": {"field": "t", "type": "quantitative", "scale": {"domain": [20.187, 89.121], "nice": false, "zero": false}},
            "y": {"datum": 38.1, "type": "quantitative", "scale": {"domain": [37.7226, 39.669], "nice": false, "zero": false}},
            "y2": {"datum": 38.064}
          }
        },
        {
          "data": {"values": [{}]},
          "mark": {"type": "rule", "color": "#d9d9d9", "strokeWidth": 1},
          "encoding": {
            "x": {"datum": 34.5, "type": "quantitative", "scale": {"domain": [20.187, 89.121], "nice": false, "zero": false}},
            "y": {"datum": 38.1, "type": "quantitative", "scale": {"domain": [37.7226, 39.669], "nice": false, "zero": false}},
            "y2": {"datum": 39.6}
          }
        },
        {
          "data": {"values": [{}]},
          "mark": {"type": "rule", "color": "#d9d9d9", "strokeWidth": 1},
          "encoding": {
            "y": {"datum": 38.1, "type": "quantitative", "scale": {"domain": [37.7226, 39.669], "nice": false, "zero": false}},
            "x": {"datum": 34.5, "type": "quantitative", "scale": {"domain": [20.187, 89.121], "nice": false, "zero": false}},
            "x2": {"datum": 86.5}
          }
        },
        {
          "data": {"name": "hf"},
          "mark": {"type": "line", "strokeWidth": 1},
          "encoding": {
            "x": {"field": "THI", "type": "quantitative", "scale": {"domain": [20.187, 89.121], "nice": false, "zero": false}},
            "y": {"field": "RT", "type": "quantitative", "scale": {"domain": [37.7226, 39.669], "nice": false, "zero": false}},
            "stroke": {"field": "series", "type": "nominal", "scale": {"domain": ["f/p ratio < 1.1 (HF)", "f/p ratio 1.1-1.2 (HF)", "f/p ratio 1.2-1.3 (HF)", "f/p ratio≥ 1.3 (HF)"], "range": ["#8c8c8c", "#c0c0c0", "#5a5a5a", "#000000"]},
              "legend": {"title": null, "orient": "none", "legendX": 111, "legendY": 3, "symbolType": "M-1,0H-0.52M0.52,0H1M0.52,0A0.52,0.52,0,1,1,-0.52,0A0.52,0.52,0,1,1,0.52,0Z", "symbolSize": 135, "symbolStrokeWidth": 1, "symbolOpacity": 1, "rowPadding": 23, "padding": 8, "fillColor": "#ffffff", "labelOffset": 1}}
          }
        },
        {
          "data": {"name": "hf"},
          "mark": {"type": "point", "shape": "circle", "filled": true, "size": 34, "strokeWidth": 0.8, "opacity": 1},
          "encoding": {
            "x": {"field": "THI", "type": "quantitative", "scale": {"domain": [20.187, 89.121], "nice": false, "zero": false}},
            "y": {"field": "RT", "type": "quantitative", "scale": {"domain": [37.7226, 39.669], "nice": false, "zero": false}},
            "fill": {"field": "series", "type": "nominal", "scale": {"domain": ["f/p ratio < 1.1 (HF)", "f/p ratio 1.1-1.2 (HF)", "f/p ratio 1.2-1.3 (HF)", "f/p ratio≥ 1.3 (HF)"], "range": ["#ffffff", "#c0c0c0", "#6a6a6a", "#000000"]},
              "legend": {"title": null, "orient": "none", "legendX": 111, "legendY": 3, "symbolType": "M-1,0H-0.52M0.52,0H1M0.52,0A0.52,0.52,0,1,1,-0.52,0A0.52,0.52,0,1,1,0.52,0Z", "symbolSize": 135, "symbolStrokeWidth": 1, "symbolOpacity": 1, "rowPadding": 23, "padding": 8, "fillColor": "#ffffff", "labelOffset": 1}},
            "stroke": {"field": "series", "type": "nominal", "scale": {"domain": ["f/p ratio < 1.1 (HF)", "f/p ratio 1.1-1.2 (HF)", "f/p ratio 1.2-1.3 (HF)", "f/p ratio≥ 1.3 (HF)"], "range": ["#8c8c8c", "#c0c0c0", "#5a5a5a", "#000000"]},
              "legend": {"title": null, "orient": "none", "legendX": 111, "legendY": 3, "symbolType": "M-1,0H-0.52M0.52,0H1M0.52,0A0.52,0.52,0,1,1,-0.52,0A0.52,0.52,0,1,1,0.52,0Z", "symbolSize": 135, "symbolStrokeWidth": 1, "symbolOpacity": 1, "rowPadding": 23, "padding": 8, "fillColor": "#ffffff", "labelOffset": 1}}
          }
        }
      ]
    }
  ],
  "resolve": {
    "scale": {"x": "independent", "y": "independent", "fill": "independent", "stroke": "independent"},
    "axis": {"x": "independent", "y": "independent"},
    "legend": {"fill": "independent", "stroke": "independent"}
  },
  "config": {
    "view": {"stroke": "#a6a6a6", "strokeWidth": 1},
    "style": {"guide-label": {"font": "Liberation Serif", "fontSize": 22, "fill": "#333333"}},
    "axis": {
      "domain": false, "grid": false, "labelOverlap": false, "labelFlush": false,
      "tickColor": "#d9d9d9", "tickWidth": 1,
      "labelFont": "Liberation Serif", "labelFontSize": 22, "labelColor": "#333333",
      "titleFont": "Liberation Serif", "titleFontSize": 22.5, "titleFontWeight": "bold", "titleColor": "#000000"
    },
    "legend": {
      "labelFont": "Liberation Serif", "labelFontSize": 14, "labelColor": "#1a1a1a", "labelLimit": 300
    }
  }
}
